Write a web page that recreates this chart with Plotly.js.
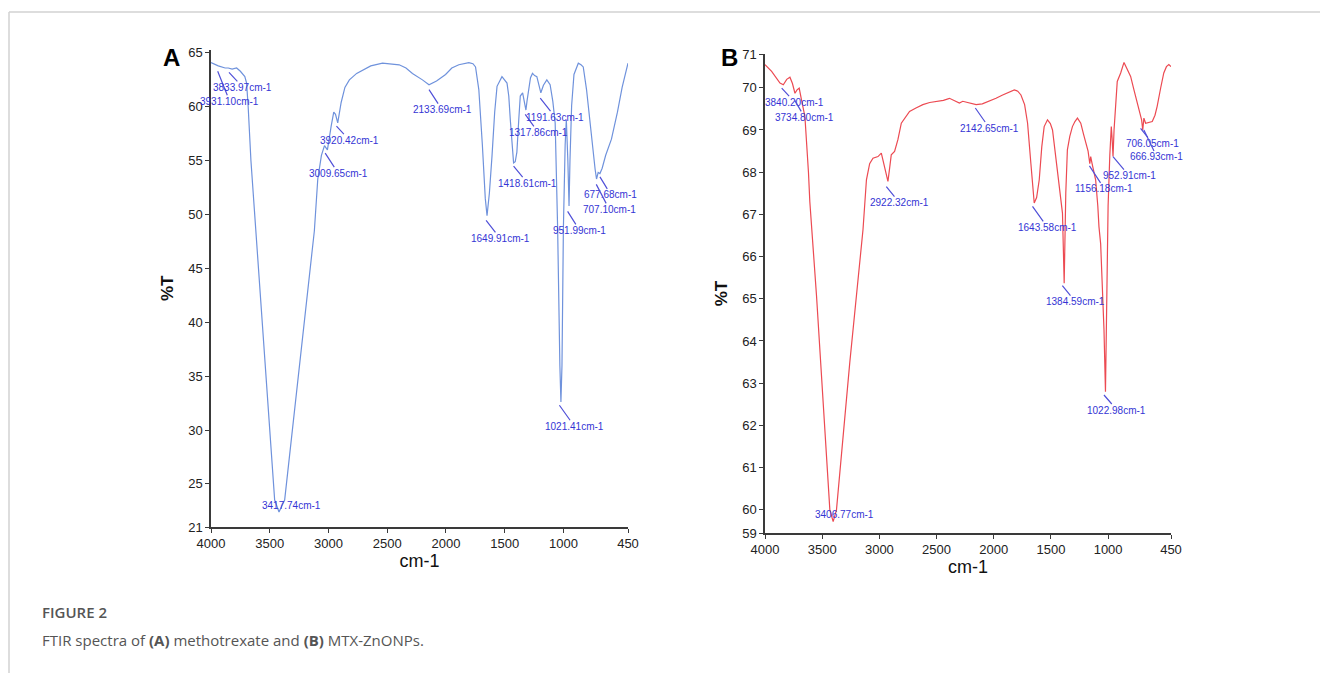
<!DOCTYPE html>
<html>
<head>
<meta charset="utf-8">
<script src="https://cdn.plot.ly/plotly-3.0.1.min.js"></script>
<style>
html,body{margin:0;padding:0;background:#fff;}
#chart{width:1320px;height:673px;}
</style>
</head>
<body>
<div id="chart"></div>
<script>
// ---------- DATA ----------
// Panel A: methotrexate
const wavenumberA = [4000,3938,3880,3853,3820,3782,3750,3712,3697,3684,3660,3619,3458,3421,3373,3120,3091,3060,3034,3009,2990,2977,2955,2940,2921,2905,2892,2860,2822,2760,2709,2640,2540,2470,2398,2340,2285,2200,2144,2080,2003,1950,1890,1805,1770,1748,1720,1690,1665,1650,1630,1608,1585,1565,1523,1480,1465,1452,1435,1424,1410,1396,1380,1367,1347,1330,1319,1310,1297,1280,1263,1245,1226,1205,1192,1170,1141,1113,1090,1070,1049,1030,1021,1012,1000,985,975,962,952,944,930,910,873,850,831,803,760,730,718,704,689,670,640,591,540,500,450];
const transmittanceA = [64.1,63.8,63.6,63.6,63.5,63.6,63.3,62.8,62.2,60.1,55.0,48.7,23.5,22.4,23.5,48.5,53.3,55.5,56.4,56.0,57.5,58.2,59.5,59.3,58.5,59.8,60.4,61.8,62.5,63.1,63.4,63.8,64.05,64.0,63.9,63.6,63.1,62.5,62.05,62.4,63.0,63.6,63.9,64.1,64.0,63.7,61.6,56.5,51.5,49.9,52.0,55.4,59.5,61.9,62.8,62.2,61.0,58.8,55.8,54.8,54.9,55.8,58.8,61.0,61.3,60.5,59.7,60.5,61.6,62.7,63.1,62.9,62.8,62.0,61.3,62.0,62.5,62.05,60.5,58.5,48.7,36.0,32.6,36.0,48.7,56.5,58.8,55.0,50.8,55.0,60.1,63.0,64.05,63.9,63.7,61.6,57.0,54.2,53.3,53.9,53.8,54.3,55.5,57.0,59.5,61.8,64.05];

// Panel B: MTX-ZnONPs
const wavenumberB = [4000,3942,3869,3840,3810,3782,3760,3738,3720,3701,3680,3651,3620,3608,3549,3433,3404,3375,3259,3143,3113,3085,3056,3012,2983,2954,2925,2910,2896,2867,2838,2808,2770,2736,2680,2620,2560,2503,2440,2387,2340,2300,2271,2210,2154,2100,2038,1980,1922,1870,1820,1790,1762,1730,1704,1675,1646,1625,1602,1580,1559,1530,1505,1486,1465,1443,1420,1399,1384,1370,1356,1335,1312,1290,1268,1239,1215,1196,1175,1160,1152,1140,1125,1109,1090,1080,1065,1050,1036,1023,1012,1000,985,972,965,957,948,934,920,890,861,835,803,774,750,730,715,707,697,687,672,640,614,590,571,540,513,490,469,450];
const transmittanceB = [70.55,70.39,70.11,70.07,70.2,70.25,70.1,69.87,69.95,69.99,69.7,69.32,68.0,67.3,65.05,60.0,59.72,60.0,63.48,66.64,67.82,68.2,68.33,68.37,68.45,68.14,67.78,68.1,68.41,68.49,68.77,69.16,69.3,69.44,69.52,69.6,69.65,69.68,69.7,69.75,69.68,69.64,69.68,69.63,69.6,69.62,69.68,69.75,69.83,69.9,69.95,69.92,69.83,69.6,69.16,68.2,67.27,67.4,67.82,68.6,69.08,69.24,69.15,69.0,68.5,67.98,67.5,67.03,65.37,67.5,68.53,68.85,69.08,69.2,69.28,69.16,68.9,68.69,68.5,68.2,68.37,68.2,68.0,67.82,67.2,66.71,66.3,65.3,64.27,62.8,65.0,67.2,68.4,69.08,68.8,68.37,69.0,69.56,70.15,70.35,70.6,70.45,70.27,69.95,69.7,69.48,69.3,69.24,69.0,69.28,69.16,69.18,69.2,69.35,69.56,70.0,70.35,70.5,70.55,70.5];

// Tick labels
const xTickVals = [4000,3500,3000,2500,2000,1500,1000,450];
const xTickText = ['4000','3500','3000','2500','2000','1500','1000','450'];
const yTickValsA = [21,25,30,35,40,45,50,55,60,65];
const yTickTextA = ['21','25','30','35','40','45','50','55','60','65'];
const yTickValsB = [59.45,60,61,62,63,64,65,66,67,68,69,70,70.8];
const yTickTextB = ['59','60','61','62','63','64','65','66','67','68','69','70','71'];

// Peak labels
const peakTextA = ['3931.10cm-1','3833.97cm-1','3920.42cm-1','3009.65cm-1','2133.69cm-1','1649.91cm-1','1418.61cm-1','1317.86cm-1','1191.63cm-1','951.99cm-1','1021.41cm-1','677.68cm-1','707.10cm-1','3417.74cm-1'];
const peakTextB = ['3840.20cm-1','3734.80cm-1','2922.32cm-1','2142.65cm-1','1643.58cm-1','1384.59cm-1','1022.98cm-1','1156.18cm-1','952.91cm-1','706.05cm-1','666.93cm-1','3406.77cm-1'];

// ---------- LAYOUT HELPERS ----------
const W = 1320, H = 673;
const px = v => v / W;
const py = v => 1 - v / H;
const sans = '"Liberation Sans", Arial, sans-serif';
const labelFont = {family: sans, size: 10, color: '#3434d4'};

// leader anchor (wavenumber, %T) and text offset in px
const leaderA = [[3943,63.3,12,30],[3847,63.2,14,15],[2932,58.2,13,14],[3028,55.7,13,20],[2144,61.6,13,20],[1658,49.45,14,18],[1424,54.5,14,17],[1325,59.3,13,18],[1197,60.8,15,19],[964,50.3,12,19],[1034,32.3,15,21],[689,53.5,11,18],[720,52.8,13,25],[3401,22.6,10,-4]];
const leaderB = [[3854,69.99,13,14],[3740,69.7,10,17],[2939,67.66,13,16],[2161,69.52,14,20],[1661,67.19,15,21],[1400,65.31,13,16],[1036,62.72,13,15],[1163,68.15,15,23],[957,68.37,16,19],[716,69.04,12,15],[687,69.0,13,27],[3390,59.76,10,-5]];

function peakAnn(texts, anchors, xref, yref) {
  return texts.map((t, i) => ({
    text: t, x: anchors[i][0], y: anchors[i][1], xref: xref, yref: yref,
    ax: anchors[i][2], ay: anchors[i][3], showarrow: true, arrowhead: 0,
    arrowwidth: 1.2, arrowcolor: '#5050d8', standoff: 0, startstandoff: 0,
    font: labelFont, borderpad: 0
  }));
}

const traces = [
  {x: wavenumberA, y: transmittanceA, xaxis: 'x', yaxis: 'y', type: 'scatter', mode: 'lines',
   line: {color: '#6f92dc', width: 1.2}, hoverinfo: 'x+y', showlegend: false},
  {x: wavenumberB, y: transmittanceB, xaxis: 'x2', yaxis: 'y2', type: 'scatter', mode: 'lines',
   line: {color: '#ec4a52', width: 1.2}, hoverinfo: 'x+y', showlegend: false}
];

const axBase = {
  showgrid: false, zeroline: false, showline: true, linecolor: '#3a3a3a', linewidth: 1.6,
  ticks: 'outside', ticklen: 4, tickwidth: 1, tickcolor: '#3a3a3a',
  tickfont: {family: sans, size: 13, color: '#222'}, automargin: false, fixedrange: true
};

const layout = {
  width: W, height: H,
  margin: {l: 0, r: 0, t: 0, b: 0},
  paper_bgcolor: '#ffffff', plot_bgcolor: '#ffffff',
  showlegend: false,
  xaxis: Object.assign({}, axBase, {
    domain: [px(211), px(628)], range: [4000, 450], anchor: 'y',
    tickmode: 'array', tickvals: xTickVals, ticktext: xTickText,
    title: {text: 'cm-1', font: {family: sans, size: 18, color: '#111'}, standoff: 4}
  }),
  yaxis: Object.assign({}, axBase, {
    domain: [py(527), py(49.7)], range: [21, 65.3], anchor: 'x',
    tickmode: 'array', tickvals: yTickValsA, ticktext: yTickTextA,
    title: {text: '<b>%T</b>', font: {family: sans, size: 17, color: '#111'}, standoff: 10}
  }),
  xaxis2: Object.assign({}, axBase, {
    domain: [px(765), px(1171)], range: [4000, 450], anchor: 'y2',
    tickmode: 'array', tickvals: xTickVals, ticktext: xTickText,
    title: {text: 'cm-1', font: {family: sans, size: 18, color: '#111'}, standoff: 4}
  }),
  yaxis2: Object.assign({}, axBase, {
    domain: [py(533), py(54)], range: [59.45, 70.8], anchor: 'x2',
    tickmode: 'array', tickvals: yTickValsB, ticktext: yTickTextB,
    title: {text: '<b>%T</b>', font: {family: sans, size: 17, color: '#111'}, standoff: 10}
  }),
  annotations: [
    {text: '<b>A</b>', xref: 'paper', yref: 'paper', x: px(171), y: py(57), xanchor: 'center', yanchor: 'middle', showarrow: false,
     font: {family: sans, size: 24, color: '#000'}},
    {text: '<b>B</b>', xref: 'paper', yref: 'paper', x: px(729), y: py(57), xanchor: 'center', yanchor: 'middle', showarrow: false,
     font: {family: sans, size: 24, color: '#000'}},
    {text: 'FIGURE 2', xref: 'paper', yref: 'paper', x: px(40), y: py(612), xanchor: 'left', yanchor: 'middle', showarrow: false,
     font: {family: '"Open Sans", "Noto Sans", sans-serif', size: 15, color: '#555', weight: 600}},
    {text: 'FTIR spectra of <b>(A)</b> methotrexate and <b>(B)</b> MTX-ZnONPs.', xref: 'paper', yref: 'paper', x: px(40), y: py(640), xanchor: 'left', yanchor: 'middle', showarrow: false,
     font: {family: '"Open Sans", "Noto Sans", sans-serif', size: 15, color: '#555'}}
  ].concat(peakAnn(peakTextA, leaderA, 'x', 'y'), peakAnn(peakTextB, leaderB, 'x2', 'y2')),
  shapes: [
    {type: 'line', xref: 'paper', yref: 'paper', x0: px(9), x1: 1, y0: py(12), y1: py(12), line: {color: '#d2d2d2', width: 1.5}},
    {type: 'line', xref: 'paper', yref: 'paper', x0: px(9), x1: px(9), y0: py(12), y1: 0, line: {color: '#d2d2d2', width: 1.5}}
  ]
};

Plotly.newPlot('chart', traces, layout, {displayModeBar: false, staticPlot: true});
</script>
</body>
</html>
